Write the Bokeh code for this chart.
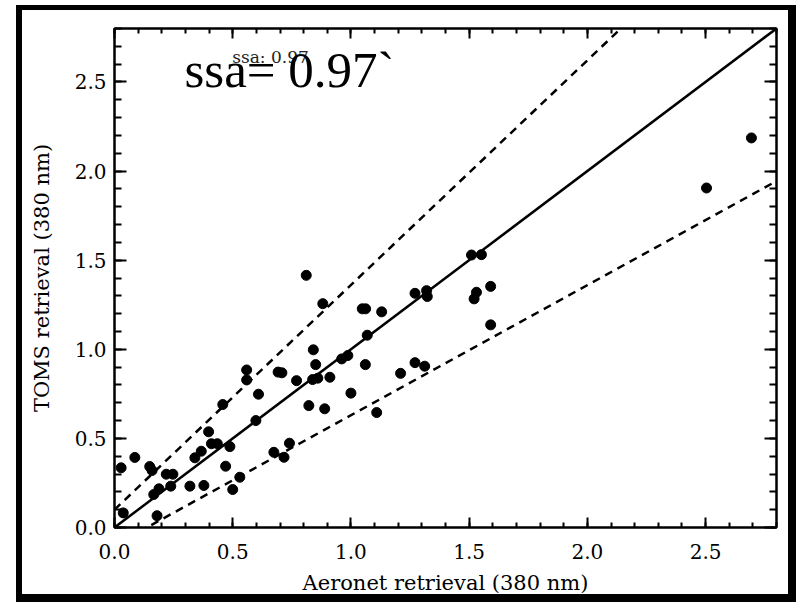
from bokeh.plotting import figure
from bokeh.models import LinearAxis, Range1d, Label, SingleIntervalTicker, PrintfTickFormatter
from bokeh.embed import file_html
from bokeh.resources import INLINE

# ---- data ----
aeronet = [0.028, 0.037, 0.086, 0.149, 0.159, 0.166, 0.188, 0.180, 0.219, 0.247,
           0.238, 0.319, 0.378, 0.340, 0.367, 0.398, 0.410, 0.435, 0.458, 0.488,
           0.470, 0.530, 0.500, 0.598, 0.609, 0.559, 0.559, 0.674, 0.717, 0.740,
           0.770, 0.692, 0.708, 0.838, 0.860, 0.911, 0.822, 0.889, 1.000, 1.109,
           1.210, 0.811, 0.881, 1.048, 1.062, 1.130, 1.069, 1.271, 1.320, 1.323,
           0.841, 0.851, 0.961, 0.987, 1.061, 1.271, 1.312, 1.510, 1.552, 1.591,
           1.531, 1.521, 1.591, 2.694, 2.504]
toms = [0.335, 0.082, 0.393, 0.342, 0.320, 0.185, 0.217, 0.066, 0.299, 0.299,
        0.232, 0.232, 0.236, 0.391, 0.428, 0.537, 0.470, 0.470, 0.690, 0.454,
        0.344, 0.282, 0.213, 0.600, 0.748, 0.828, 0.884, 0.422, 0.394, 0.473,
        0.824, 0.872, 0.868, 0.830, 0.838, 0.843, 0.684, 0.666, 0.754, 0.645,
        0.865, 1.415, 1.256, 1.227, 1.227, 1.210, 1.079, 1.314, 1.329, 1.296,
        0.997, 0.914, 0.946, 0.965, 0.914, 0.925, 0.905, 1.529, 1.531, 1.353,
        1.320, 1.283, 1.137, 2.186, 1.905]

one_x = [0.0, 2.8]
one_y = [0.0, 2.8]
upper_x = [0.0, 2.8]
upper_y = [0.1, 3.63]
lower_x = [0.0, 2.8]
lower_y = [-0.1, 1.944]

x_label = "Aeronet retrieval (380 nm)"
y_label = "TOMS retrieval (380 nm)"
big_note = "ssa= 0.97`"
small_note = "ssa: 0.97"

TICK_FONT = "DejaVu Serif"

p = figure(width=766, height=584,
           x_range=Range1d(0, 2.8), y_range=Range1d(0, 2.8),
           output_backend="svg", toolbar_location=None,
           min_border_left=92, min_border_right=26,
           min_border_top=18, min_border_bottom=80,
           background_fill_color="white", border_fill_color="white")
p.styles = {"box-sizing": "content-box",
            "border-style": "solid", "border-color": "black",
            "border-width": "5px 8px 8px 6px",
            "margin-left": "16px", "margin-top": "5px"}
p.grid.grid_line_color = None
p.outline_line_color = "black"
p.outline_line_width = 2

p.add_layout(LinearAxis(), "above")
p.add_layout(LinearAxis(), "right")

for ax in p.axis:
    ax.ticker = SingleIntervalTicker(interval=0.5, num_minor_ticks=5)
    ax.formatter = PrintfTickFormatter(format="%.1f")
    ax.axis_line_width = 2
    ax.axis_line_color = "black"
    ax.major_tick_line_width = 2
    ax.minor_tick_line_width = 2
    ax.major_tick_out = 0
    ax.minor_tick_out = 0
    ax.major_label_text_font = TICK_FONT
    ax.major_label_text_font_size = "20px"
    ax.major_label_text_color = "black"
    ax.axis_label_text_font = TICK_FONT
    ax.axis_label_text_font_size = "21px"
    ax.axis_label_text_font_style = "normal"
    ax.axis_label_text_color = "black"

for ax in p.xaxis:
    ax.major_tick_in = 10
    ax.minor_tick_in = 5
for ax in p.yaxis:
    ax.major_tick_in = 12
    ax.minor_tick_in = 7

for ax in (p.above[0], p.right[0]):
    ax.major_label_text_font_size = "0px"
    ax.major_label_text_color = None
    ax.major_label_standoff = 0

p.below[0].axis_label = x_label
p.below[0].major_label_standoff = 16
p.below[0].axis_label_standoff = 9
p.left[0].axis_label = y_label
p.left[0].major_label_standoff = 8
p.left[0].axis_label_standoff = 18

p.line(one_x, one_y, line_color="black", line_width=2.5)
p.line(upper_x, upper_y, line_color="black", line_width=2.5, line_dash="8 6")
p.line(lower_x, lower_y, line_color="black", line_width=2.5, line_dash="8 6")

p.scatter(aeronet, toms, size=10, marker="circle", fill_color="black", line_color="black")

p.add_layout(Label(x=0.498, y=2.638, text=small_note, text_font="DejaVu Serif",
                   text_font_size="17px", text_color="#222222", text_baseline="alphabetic"))
p.add_layout(Label(x=0.296, y=2.568, text=big_note, text_font="Liberation Serif",
                   text_font_size="51px", text_color="black", text_baseline="alphabetic"))

open("out.html", "w").write(file_html(p, INLINE))
